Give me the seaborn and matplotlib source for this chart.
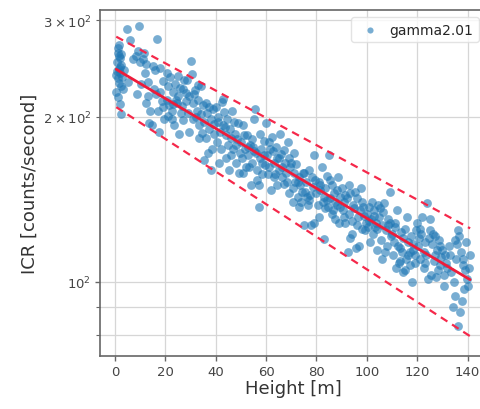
import numpy as np
import pandas as pd
import matplotlib
matplotlib.use("Agg")
import matplotlib.pyplot as plt
import seaborn as sns

# Measured incoming count rate versus flight height
heights = [
    # 0-10 m
    0.5, 0.8, 1.0, 1.2, 1.4, 1.6, 1.8, 2.0, 2.2, 2.5, 0.6, 1.1, 1.5, 2.1, 2.8, 3.0,
    1.3, 0.9, 2.4, 1.7, 4.6, 6.0, 9.0, 9.5, 7.0, 8.2, 10.0, 3.5, 5.2, 8.8, 2.0, 2.3,
    # 10-20 m
    11, 12, 12.5, 13, 13.5, 14, 15, 16, 16.5, 17, 18, 19, 19.5, 11.5, 14.5, 17.5,
    18.5, 10.5, 15.5, 13.2, 16.2, 19.0, 12.2, 18.0,
    # 20-30 m
    20.5, 21, 21.5, 22, 22.5, 23, 23.5, 24, 24.5, 25, 25.5, 26, 26.5, 27, 27.5, 28,
    28.5, 29, 29.5, 20.8, 22.8, 24.2, 26.2, 28.2, 23.2, 25.2, 27.2, 21.2, 29.2, 30.0,
    # 30-40 m
    30.4, 31, 31.5, 32, 32.5, 33, 33.5, 34, 34.5, 35, 35.5, 36, 36.5, 37, 37.5, 38,
    38.5, 39, 39.5, 30.8, 32.8, 34.2, 36.2, 38.2, 35.2, 33.2, 37.2, 31.8, 39.2,
    # 40-50 m
    40, 40.5, 41, 41.5, 42, 42.5, 43, 43.5, 44, 44.5, 45, 45.5, 46, 46.5, 47, 47.5,
    48, 48.5, 49, 49.5, 40.8, 42.8, 44.2, 46.2, 48.2, 41.2, 43.2, 45.2, 47.2, 49.2,
    # 50-60 m
    50, 50.5, 51, 51.5, 52, 52.5, 53, 53.5, 54, 54.5, 55, 55.5, 56, 56.5, 57, 57.5,
    58, 58.5, 59, 59.5, 50.8, 52.8, 54.2, 56.2, 58.2, 51.2, 53.2, 55.2, 57.2, 59.2,
    54.6, 57.4,
    # 60-70 m
    60, 60.5, 61, 61.5, 62, 62.5, 63, 63.5, 64, 64.5, 65, 65.5, 66, 66.5, 67, 67.5,
    68, 68.5, 69, 69.5, 60.8, 62.8, 64.2, 66.2, 68.2, 61.2, 63.2, 65.2, 67.2, 69.2,
    # 70-80 m
    70, 70.5, 71, 71.5, 72, 72.5, 73, 73.5, 74, 74.5, 75, 75.5, 76, 76.5, 77, 77.5,
    78, 78.5, 79, 79.5, 70.8, 72.8, 74.2, 76.2, 78.2, 71.2, 73.2, 75.2, 77.2, 79.2,
    # 80-90 m
    80, 80.5, 81, 81.5, 82, 82.5, 83, 83.5, 84, 84.5, 85, 85.5, 86, 86.5, 87, 87.5,
    88, 88.5, 89, 89.5, 80.8, 82.8, 84.2, 86.2, 88.2, 81.2, 83.2, 85.2, 87.2, 89.2,
    # 90-100 m
    90, 90.5, 91, 91.5, 92, 92.5, 93, 93.5, 94, 94.5, 95, 95.5, 96, 96.5, 97, 97.5,
    98, 98.5, 99, 99.5, 90.8, 92.8, 94.2, 96.2, 98.2, 91.2, 93.2, 95.2, 97.2, 99.2,
    # 100-110 m
    100, 100.5, 101, 101.5, 102, 102.5, 103, 103.5, 104, 104.5, 105, 105.5, 106,
    106.5, 107, 107.5, 108, 108.5, 109, 109.5, 100.8, 102.8, 104.2, 106.2, 108.2,
    101.2, 103.2, 105.2, 107.2, 109.2,
    # 110-120 m
    110, 110.5, 111, 111.5, 112, 112.5, 113, 113.5, 114, 114.5, 115, 115.5, 116,
    116.5, 117, 117.5, 118, 118.5, 119, 119.5, 110.8, 112.8, 114.2, 116.2, 118.2,
    111.2, 113.2, 115.2, 117.2, 119.2,
    # 120-130 m
    120, 120.5, 121, 121.5, 122, 122.5, 123, 123.5, 124, 124.5, 125, 125.5, 126,
    126.5, 127, 127.5, 128, 128.5, 129, 129.5, 120.8, 122.8, 124.2, 126.2, 128.2,
    121.2, 123.2, 125.2, 127.2, 129.2,
    # 130-141 m
    130, 130.5, 131, 131.5, 132, 132.5, 133, 133.5, 134, 134.5, 135, 135.5, 136,
    136.5, 137, 137.5, 138, 138.5, 139, 139.5, 140, 140.5, 141, 136.2, 134.8, 137.8,
    130.8, 135.8, 139.8, 138.2,
]

icr = [
    # 0-10 m
    238, 252, 262, 267, 245, 231, 256, 241, 228, 249, 222, 235, 258, 247, 236, 225,
    217, 243, 260, 270, 290, 276, 264, 293, 255, 258, 252, 244, 232, 220, 211, 202,
    # 10-20 m
    255, 240, 212, 218, 195, 205, 248, 244, 277, 205, 246, 233, 198, 262, 193, 188,
    214, 230, 225, 232, 220, 208, 250, 222,
    # 20-30 m
    215, 228, 210, 236, 205, 222, 193, 230, 212, 218, 186, 226, 209, 197, 234, 214,
    234, 203, 188, 240, 198, 215, 203, 221, 211, 237, 225, 201, 218, 253,
    # 30-40 m
    239, 212, 220, 200, 205, 229, 193, 228, 187, 210, 196, 183, 203, 172, 190, 160,
    175, 207, 186, 198, 215, 202, 212, 198, 167, 183, 208, 224, 194,
    # 40-50 m
    208, 180, 196, 188, 175, 213, 216, 192, 185, 198, 178, 190, 170, 205, 175, 186,
    165, 182, 195, 172, 200, 193, 168, 183, 178, 165, 204, 160, 196, 158,
    # 50-60 m
    180, 168, 193, 175, 162, 185, 170, 178, 150, 165, 198, 207, 172, 160, 137, 168,
    175, 157, 181, 163, 158, 176, 182, 153, 165, 185, 162, 173, 150, 170,
    176, 186,
    # 60-70 m
    195, 170, 162, 175, 147, 184, 165, 157, 176, 168, 160, 186, 171, 155, 151, 165,
    158, 180, 145, 162, 157, 173, 150, 162, 152, 180, 155, 168, 174, 168,
    # 70-80 m
    165, 148, 158, 152, 164, 143, 155, 150, 140, 158, 127, 146, 152, 138, 160, 144,
    127, 149, 170, 153, 140, 152, 146, 143, 155, 172, 137, 158, 141, 128,
    # 80-90 m
    145, 138, 131, 150, 162, 140, 119.5, 148, 156, 137, 170, 142, 150, 135, 145, 140,
    138, 155, 128, 143, 152, 143, 141, 133, 147, 147, 136, 153, 130, 137,
    # 90-100 m
    148, 135, 140, 128, 142, 113, 133, 145, 129, 138, 136, 115, 142, 131, 116, 148,
    125, 137, 132, 128, 131, 150, 122, 127, 140, 144, 120, 146, 135, 124,
    # 100-110 m
    133, 126, 137, 130, 140, 122, 135, 128, 114, 138, 131, 119, 127,
    134, 139, 124, 116, 130, 146, 121, 129, 132, 125, 110, 127,
    118, 126, 136, 113, 128,
    # 110-120 m
    122, 112, 128, 106, 135, 116, 109, 123, 113, 104, 125, 110, 131,
    118, 107, 121, 99.7, 114, 112, 124, 118, 108, 120, 112, 117,
    126, 115, 105, 113, 108,
    # 120-130 m
    128, 116, 110, 122, 131, 106, 118, 112, 139, 120, 124, 103, 117,
    109, 121, 102, 114, 119, 107, 111, 120, 113, 101, 122, 105,
    125, 108, 130, 112, 116,
    # 130-141 m
    114, 103, 112, 108, 106, 116, 112, 104, 90, 100, 94, 110, 83,
    121, 88, 113, 107, 97, 105, 118, 98, 106, 112, 124, 119, 92,
    98, 117, 101, 110,
]

# Exponential fit ICR = A * exp(b * h) with one-sigma parameter uncertainties
fit_amplitude = 245.0
fit_amplitude_err = 36.0
fit_rate = -0.00630
fit_rate_err = 0.00056

series_label = "gamma2.01"

df = pd.DataFrame({"Height": heights, "ICR": icr})

sns.set_theme(style="whitegrid")
plt.rcParams["font.family"] = ["DejaVu Sans"]

fig = plt.figure(figsize=(4.81, 4.10), dpi=100)
ax = fig.add_axes([100 / 481, 53 / 410, 386 / 481, 346 / 410])

sns.scatterplot(data=df, x="Height", y="ICR", ax=ax, s=40, alpha=0.6,
                color="#1f77b4", linewidth=0, label=series_label)

h_line = np.linspace(min(heights), max(heights), 200)
ax.plot(h_line, fit_amplitude * np.exp(fit_rate * h_line),
        color="#ee1c3a", lw=2.0)
ax.plot(h_line, (fit_amplitude + fit_amplitude_err)
        * np.exp((fit_rate + fit_rate_err) * h_line),
        color="#f5284a", lw=1.6, ls=(0, (3.5, 2.5)))
ax.plot(h_line, (fit_amplitude - fit_amplitude_err)
        * np.exp((fit_rate - fit_rate_err) * h_line),
        color="#f5284a", lw=1.6, ls=(0, (3.5, 2.5)))

ax.set_yscale("log")
ax.set_xlim(-5.95, 147.3)
ax.set_ylim(73.1, 313.5)
ax.set_xticks([0, 20, 40, 60, 80, 100, 120, 140])

ax.grid(True, which="both", color="#d6d6d6", lw=0.9)
for side in ["left", "bottom", "top", "right"]:
    ax.spines[side].set_color("#666666")
    ax.spines[side].set_linewidth(1.2)

ax.tick_params(axis="both", which="major", length=3.5, width=1,
               color="#666666", labelsize=9.5, labelcolor="#444444",
               bottom=True, left=True, pad=3)
ax.tick_params(axis="y", which="minor", length=3, width=0.8,
               color="#666666", labelsize=9.5, labelcolor="#444444", left=True)

ax.set_xlabel("Height [m]", fontsize=13, color="#333333", labelpad=1)
ax.set_ylabel("ICR [counts/second]", fontsize=13, color="#333333", labelpad=3)

leg = ax.legend(loc="upper right", fontsize=10, frameon=True,
                markerscale=0.7, handletextpad=0.4, borderpad=0.4)
leg.get_frame().set_edgecolor("#dddddd")

fig.savefig("out.png", dpi=100)
